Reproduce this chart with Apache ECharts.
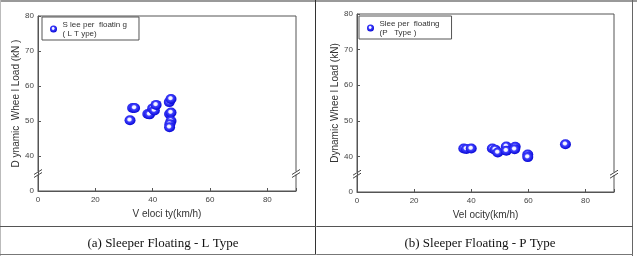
<!DOCTYPE html>
<html>
<head>
<meta charset="utf-8">
<script src="https://cdn.jsdelivr.net/npm/echarts@6/dist/echarts.min.js"></script>
<style>
  html, body { margin: 0; padding: 0; background: #fff; }
  #main { width: 637px; height: 256px; }
</style>
</head>
<body>
<div id="main"></div>
<script>
// 数据 (a) L Type  [velocity, load]
var dataL = [
  [32.1, 50.2], [33.0, 53.7], [33.7, 53.7], [38.3, 52.0], [38.9, 51.9],
  [40.0, 53.6], [40.6, 53.0], [41.2, 54.6], [45.8, 55.4], [46.4, 56.3],
  [45.9, 52.0], [46.4, 52.4], [46.4, 50.0], [46.0, 49.1], [45.9, 48.2]
];
// (b) P Type
var dataP = [
  [37.4, 42.2], [38.3, 42.1], [40.0, 42.2], [47.4, 42.2], [48.4, 41.9],
  [49.3, 41.1], [52.3, 42.8], [52.3, 41.6], [55.4, 42.7], [55.2, 42.0],
  [59.8, 40.5], [59.8, 39.8], [73.0, 43.4]
];
var xTicks = [0, 20, 40, 60, 80];
var yTicks = ['0', '40', '50', '60', '70', '80'];
var legendNames = ['S lee per  floatin g\n( L T ype)', 'Slee per  floating\n(P   Type )'];
var xNames = ['V eloci ty(km/h)', 'Vel ocity(km/h)'];
var yNames = ['D ynamic  Whee l Load (kN )', 'Dynamic Whee l Load (kN)'];
var captions = ['(a) Sleeper Floating - L Type', '(b) Sleeper Floating - P Type'];

var ballColor = new echarts.graphic.RadialGradient(0.45, 0.42, 0.6, [
  { offset: 0, color: '#ffffff' },
  { offset: 0.25, color: '#eeeeff' },
  { offset: 0.42, color: '#4040ff' },
  { offset: 1, color: '#0000d0' }
]);

var grids = [
  { left: 38, top: 16, width: 258, height: 175 },
  { left: 357, top: 14, width: 257, height: 178 }
];

function xAxisOf(i) {
  return {
    gridIndex: i, type: 'value', min: 0, max: 90, interval: 20,
    name: xNames[i], nameLocation: 'middle', nameGap: 17,
    nameTextStyle: { fontFamily: 'Liberation Sans', fontSize: 10, color: '#333' },
    axisLine: { lineStyle: { color: '#555' } },
    axisTick: { inside: true, length: 3, lineStyle: { color: '#555' } },
    axisLabel: {
      fontFamily: 'Liberation Sans', fontSize: 8, color: '#444', margin: 5,
      formatter: function (v) { return xTicks.indexOf(v) >= 0 ? String(v) : ''; }
    },
    splitLine: { show: false }
  };
}
function yAxisOf(i) {
  return {
    gridIndex: i, type: 'value', min: 30, max: 80, interval: 10,
    name: yNames[i], nameLocation: 'middle', nameGap: 17,
    nameTextStyle: { fontFamily: 'Liberation Sans', fontSize: 10, color: '#333' },
    axisLine: { lineStyle: { color: '#555' } },
    axisTick: { inside: true, length: 3, lineStyle: { color: '#555' } },
    axisLabel: {
      fontFamily: 'Liberation Sans', fontSize: 8, color: '#444', margin: 4,
      formatter: function (v) { return v === 30 ? yTicks[0] : String(v); }
    },
    splitLine: { show: false }
  };
}
function seriesOf(i, data) {
  return {
    name: legendNames[i], type: 'scatter', xAxisIndex: i, yAxisIndex: i,
    symbol: 'circle', symbolSize: [11, 10], data: data,
    itemStyle: { color: ballColor, opacity: 1 }
  };
}
function legendOf(i, left, top) {
  return {
    data: [legendNames[i]], left: left, top: top, orient: 'vertical',
    icon: 'circle', itemWidth: 8, itemHeight: 7, itemGap: 0,
    padding: [3, 12, 2, 8], borderColor: '#555', borderWidth: 1,
    textStyle: { fontFamily: 'Liberation Sans', fontSize: 8, color: '#333', lineHeight: 9 },
    selectedMode: false
  };
}

var myChart = echarts.init(document.getElementById('main'));
myChart.setOption({
  animation: false,
  grid: grids.map(function (g) {
    return Object.assign({ show: true, borderColor: '#555', borderWidth: 1, backgroundColor: 'transparent' }, g);
  }),
  xAxis: [xAxisOf(0), xAxisOf(1)],
  yAxis: [yAxisOf(0), yAxisOf(1)],
  legend: [legendOf(0, 42, 17), legendOf(1, 359, 16)],
  title: [
    { text: captions[0], left: 158, top: 232, textAlign: 'center',
      textStyle: { fontFamily: 'Liberation Serif', fontSize: 13, fontWeight: 'normal', color: '#111' } },
    { text: captions[1], left: 475, top: 232, textAlign: 'center',
      textStyle: { fontFamily: 'Liberation Serif', fontSize: 13, fontWeight: 'normal', color: '#111' } }
  ],
  series: [seriesOf(0, dataL), seriesOf(1, dataP)]
});

// 表格边框 + 断轴符号
var els = [
  { type: 'rect', shape: { x: 0, y: 0, width: 637, height: 2 }, style: { fill: '#999' } },
  { type: 'line', shape: { x1: 0.5, y1: 0, x2: 0.5, y2: 256 }, style: { stroke: '#bbb' } },
  { type: 'line', shape: { x1: 632.5, y1: 0, x2: 632.5, y2: 256 }, style: { stroke: '#666' } },
  { type: 'line', shape: { x1: 315.5, y1: 0, x2: 315.5, y2: 254 }, style: { stroke: '#333' } },
  { type: 'line', shape: { x1: 0, y1: 226.5, x2: 633, y2: 226.5 }, style: { stroke: '#555' } },
  { type: 'line', shape: { x1: 0, y1: 254.5, x2: 633, y2: 254.5 }, style: { stroke: '#777' } }
];
[0, 1].forEach(function (i) {
  [0, 90].forEach(function (xv) {
    var p = myChart.convertToPixel({ gridIndex: i }, [xv, 35]);
    els.push({ type: 'rect', shape: { x: p[0] - 2, y: p[1] - 2, width: 4, height: 3 }, style: { fill: '#fff' } });
    els.push({ type: 'line', shape: { x1: p[0] - 4, y1: p[1] + 1, x2: p[0] + 4, y2: p[1] - 4 }, style: { stroke: '#444', lineWidth: 1 } });
    els.push({ type: 'line', shape: { x1: p[0] - 4, y1: p[1] + 4, x2: p[0] + 4, y2: p[1] - 1 }, style: { stroke: '#444', lineWidth: 1 } });
  });
});
myChart.setOption({ graphic: els });
</script>
</body>
</html>
